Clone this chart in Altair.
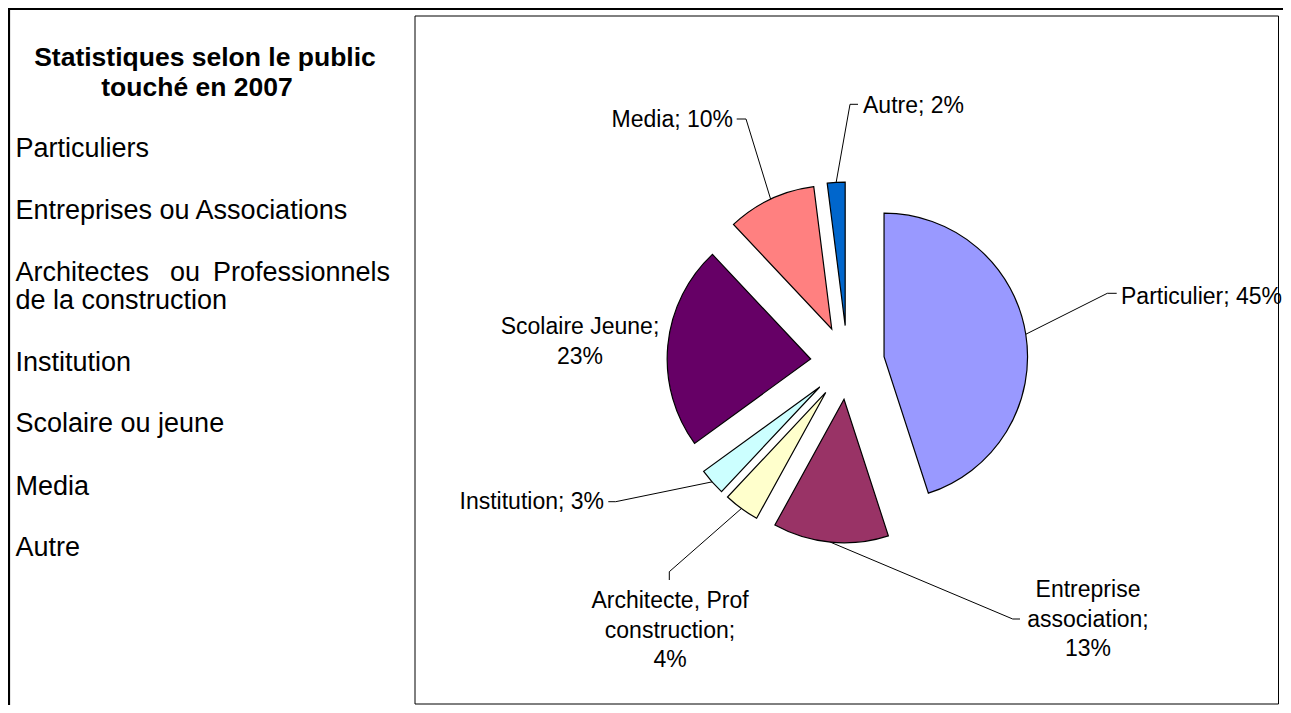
import math
import altair as alt
import pandas as pd

# ---------------- data ----------------
categories = ["Particulier", "Entreprise association", "Architecte, Prof construction",
              "Institution", "Scolaire Jeune", "Media", "Autre"]
values = [45, 13, 4, 3, 23, 10, 2]
colors = ["#9999FF", "#993366", "#FFFFCC", "#CCFFFF", "#660066", "#FF8080", "#0066CC"]
label_texts = ["Particulier; 45%", "Entreprise\nassociation;\n13%", "Architecte, Prof\nconstruction;\n4%",
               "Institution; 3%", "Scolaire Jeune;\n23%", "Media; 10%", "Autre; 2%"]

title_lines = ["Statistiques selon le public", "touché en 2007"]
list_items = ["Particuliers", "Entreprises ou Associations", "de la construction",
              "Institution", "Scolaire ou jeune", "Media", "Autre"]
justified_words = ["Architectes", "ou", "Professionnels"]

# ---------------- layout (page pixels) ----------------
W, H = 1275, 697
XS = alt.Scale(domain=[8, 8 + W], range=[0, W])
YS = alt.Scale(domain=[8, 8 + H], range=[0, H])
CX, CY, R, EXPLODE = 847.5, 362.5, 143.5, 37
TOTAL = sum(values)
FONT = "Liberation Sans"

label_x = [1121, 1088, 670, 604, 580, 733, 863]
label_y = [304, 597, 608, 509, 334, 127, 113]
label_align = ["left", "center", "center", "right", "center", "right", "left"]
elbow_x = [1107.3, 1012.7, 669.3, 615.7, None, 746, 850]
elbow_y = [293.3, 619, 571.7, 501.7, None, 119, 104.3]
tick_x = [1116.7, 1020, 669.3, 608.3, None, 736.7, 858]
tick_y = [293.3, 619, 580, 501.7, None, 119, 104.3]

df = pd.DataFrame({
    "category": categories, "value": values, "order": list(range(len(values))),
    "label": label_texts, "lx": label_x, "ly": label_y, "align": label_align,
    "elx": elbow_x, "ely": elbow_y, "tkx": tick_x, "tky": tick_y,
})

def X(f):
    return alt.X(f, type="quantitative", scale=XS, axis=None)

def Y(f):
    return alt.Y(f, type="quantitative", scale=YS, axis=None)

base = (
    alt.Chart(df)
    .transform_joinaggregate(total="sum(value)")
    .transform_window(cum="sum(value)", sort=[alt.SortField("order")], frame=[None, 0])
    .transform_calculate(
        start="datum.cum - datum.value",
        mid="2*PI*(datum.cum - datum.value/2)/datum.total",
        px=f"{CX} + {EXPLODE}*sin(datum.mid)",
        py=f"{CY} - {EXPLODE}*cos(datum.mid)",
        ax=f"{CX} + {EXPLODE + R}*sin(datum.mid)",
        ay=f"{CY} - {EXPLODE + R}*cos(datum.mid)",
    )
)

pie = base.mark_arc(radius=R, stroke="#000000", strokeWidth=1.2).encode(
    x=X("px"), y=Y("py"),
    theta=alt.Theta("start:Q", scale=alt.Scale(domain=[0, TOTAL], range=[0, 2 * math.pi])),
    theta2=alt.Theta2("cum:Q"),
    color=alt.Color("category:N", scale=alt.Scale(domain=categories, range=colors), legend=None),
)

leader1 = base.transform_filter("isValid(datum.elx)").mark_rule(color="#000000", strokeWidth=1).encode(
    x=X("ax"), y=Y("ay"), x2="elx:Q", y2="ely:Q")
leader2 = base.transform_filter("isValid(datum.elx)").mark_rule(color="#000000", strokeWidth=1).encode(
    x=X("elx"), y=Y("ely"), x2="tkx:Q", y2="tky:Q")

label_layers = []
for al in ["left", "center", "right"]:
    label_layers.append(
        base.transform_filter(f"datum.align == '{al}'").mark_text(
            align=al, baseline="alphabetic", font=FONT, fontSize=23, lineBreak="\n",
            lineHeight=29.5, color="#000000",
        ).encode(x=X("lx"), y=Y("ly"), text="label:N")
    )

# left panel text
left_rows = []
left_rows.append({"t": title_lines[0], "x": 205, "y": 66, "a": "center", "w": "bold", "s": 26.5})
left_rows.append({"t": title_lines[1], "x": 197, "y": 96, "a": "center", "w": "bold", "s": 26.5})
item_y = [157, 219, 309, 371, 432, 495, 556]
for t, yy in zip(list_items, item_y):
    left_rows.append({"t": t, "x": 15.5, "y": yy, "a": "left", "w": "normal", "s": 27})
left_rows.append({"t": justified_words[0], "x": 15.5, "y": 281, "a": "left", "w": "normal", "s": 27})
left_rows.append({"t": justified_words[1], "x": 185, "y": 281, "a": "center", "w": "normal", "s": 27})
left_rows.append({"t": justified_words[2], "x": 390, "y": 281, "a": "right", "w": "normal", "s": 27})
left_df = pd.DataFrame(left_rows)

left_layers = []
for al in ["left", "center", "right"]:
    for wt in ["bold", "normal"]:
        sub = left_df[(left_df.a == al) & (left_df.w == wt)]
        if len(sub) == 0:
            continue
        left_layers.append(
            alt.Chart(sub).mark_text(
                align=al, baseline="alphabetic", font=FONT,
                fontSize=float(sub.s.iloc[0]), fontWeight=wt, color="#000000",
            ).encode(x=X("x"), y=Y("y"), text="t:N")
        )

# frame lines
frame_df = pd.DataFrame({"x": [415], "x2": [1278.5], "y": [16], "y2": [704]})
box = alt.Chart(frame_df).mark_rect(fill=None, stroke="#000000", strokeWidth=1).encode(
    x=X("x"), x2="x2:Q", y=Y("y"), y2="y2:Q")
top_df = pd.DataFrame({"x": [8], "x2": [8 + W], "y": [9]})
top_line = alt.Chart(top_df).mark_rule(color="#000000", strokeWidth=2.2).encode(
    x=X("x"), x2="x2:Q", y=Y("y"))
left_df2 = pd.DataFrame({"x": [9], "y": [8], "y2": [8 + H]})
left_line = alt.Chart(left_df2).mark_rule(color="#000000", strokeWidth=2.2).encode(
    x=X("x"), y=Y("y"), y2="y2:Q")

chart = alt.layer(
    box, top_line, left_line, pie, leader1, leader2, *label_layers, *left_layers
).properties(width=W, height=H, padding=0, autosize=alt.AutoSizeParams(type="none")).configure_view(
    stroke=None
).configure(background="#ffffff")

chart.save("out.html", embed_options={"renderer": "svg", "actions": False})
